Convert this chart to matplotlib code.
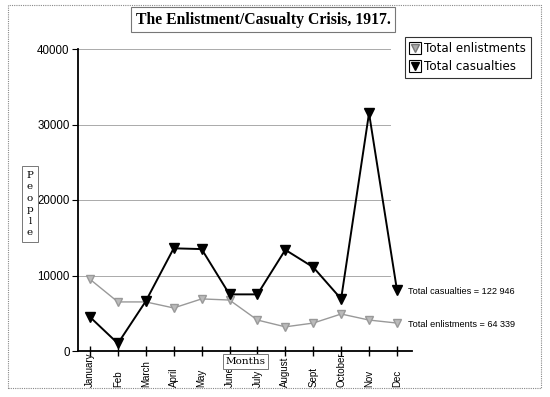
import matplotlib
matplotlib.use("Agg")
import matplotlib.pyplot as plt
from matplotlib.patches import Rectangle
from matplotlib.lines import Line2D
from matplotlib.legend_handler import HandlerTuple

months = ["January", "Feb", "March", "April", "May", "June", "July",
          "August", "Sept", "October", "Nov", "Dec"]
casualties = [4500, 1000, 6600, 13600, 13500, 7500, 7500, 13400, 11100, 6900, 31500, 8100]
enlistments = [9500, 6500, 6500, 5700, 6900, 6750, 4100, 3200, 3700, 4900, 4100, 3700]
yticks = [0, 10000, 20000, 30000, 40000]
title = "The Enlistment/Casualty Crisis, 1917."
cas_label = "Total casualties = 122 946"
enl_label = "Total enlistments = 64 339"

W, H = 550, 397
fig = plt.figure(figsize=(5.5, 3.97), dpi=100)
fig.patch.set_facecolor("white")

def fx(px):
    return px / W

def fy(py):
    return 1 - py / H

# outer border
fig.add_artist(Rectangle((fx(8), fy(388)), fx(541) - fx(8), fy(5) - fy(388),
                         transform=fig.transFigure, fill=False, ec="#888888",
                         lw=0.8, ls=(0, (1, 1))))

ax = fig.add_axes([fx(78), fy(351), fx(412) - fx(78), fy(49) - fy(351)])
x = list(range(len(months)))
ax.set_xlim(-0.43, 11.54)
ax.set_ylim(0, 40000)

for yv in yticks[1:]:
    ax.axhline(yv, xmin=0, xmax=0.935, color="#aaaaaa", lw=0.7, zorder=0)

ax.plot(x, enlistments, color="#999999", lw=1.0, marker="v", ms=6,
        mfc="#bbbbbb", mec="#999999", zorder=3)
ax.plot(x, casualties, color="black", lw=1.4, marker="v", ms=7,
        mfc="black", mec="black", zorder=4)

ax.spines["top"].set_visible(False)
ax.spines["right"].set_visible(False)
ax.spines["left"].set_linewidth(1.3)
ax.spines["bottom"].set_linewidth(1.3)

ax.set_yticks(yticks)
ax.set_yticklabels([str(v) for v in yticks], fontsize=8.3, family="Liberation Sans")
ax.tick_params(axis="y", direction="out", length=4, width=0.8, pad=2)
ax.set_xticks(x)
ax.set_xticklabels([])
ax.tick_params(axis="x", direction="inout", length=7, width=1.0)

# month labels, bottom-aligned like the reference
for xi, m in zip(x, months):
    ax.text(xi, -0.119, m, transform=ax.get_xaxis_transform(), rotation=90,
            ha="center", va="bottom", fontsize=7, family="Liberation Sans",
            clip_on=False)

# right-side annotations
ax.text(11.4, casualties[-1] - 250, cas_label, fontsize=6.6, family="Liberation Sans",
        va="center", ha="left")
ax.text(11.4, enlistments[-1] - 250, enl_label, fontsize=6.6, family="Liberation Sans",
        va="center", ha="left")

# title box
fig.text(fx(263), fy(19.5), title, ha="center", va="center", fontsize=11.3,
         family="Liberation Serif", fontweight="bold",
         bbox=dict(boxstyle="square,pad=0.3", fc="white", ec="#777777", lw=0.8))

# Months label box
fig.text(fx(245.5), fy(361.5), "Months", ha="center", va="center", fontsize=7.5,
         family="DejaVu Serif", zorder=5,
         bbox=dict(boxstyle="square,pad=0.25", fc="white", ec="#777777", lw=0.7))

# People label box (stacked letters)
fig.text(fx(30), fy(204), "P\ne\no\np\nl\ne", ha="center", va="center", fontsize=7.5,
         family="DejaVu Serif", linespacing=1.35,
         bbox=dict(boxstyle="square,pad=0.45", fc="white", ec="#777777", lw=0.7))

# legend with boxed triangle markers
sq = dict(ls="none", marker="s", ms=8.5, mfc="white", mec="black", mew=0.8)
handles = [
    (Line2D([], [], **sq),
     Line2D([], [], ls="none", marker="v", ms=5.5, mfc="#aaaaaa", mec="#777777")),
    (Line2D([], [], **sq),
     Line2D([], [], ls="none", marker="v", ms=5.5, mfc="black", mec="black")),
]
leg = fig.legend(handles, ["Total enlistments", "Total casualties"],
                 handler_map={tuple: HandlerTuple(ndivide=1, pad=0)},
                 loc="upper left", bbox_to_anchor=(fx(405), fy(37)),
                 frameon=True, fancybox=False, handlelength=0.8,
                 handletextpad=0.4, borderpad=0.4, labelspacing=0.45,
                 borderaxespad=0,
                 prop={"family": "DejaVu Sans", "size": 8.6})
leg.get_frame().set_edgecolor("black")
leg.get_frame().set_linewidth(0.8)

fig.savefig("out.png", dpi=100)
